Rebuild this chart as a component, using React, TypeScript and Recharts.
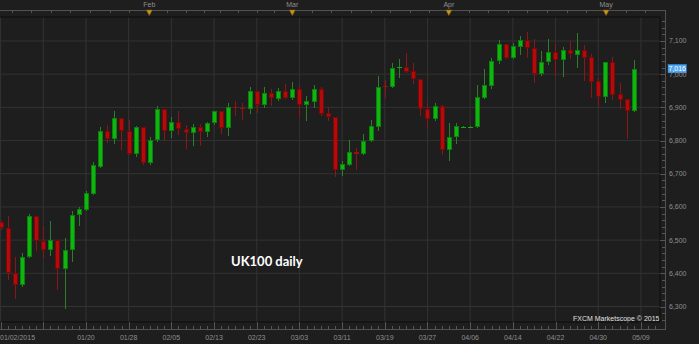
import React from 'react';
import { ComposedChart, Bar, XAxis, YAxis, CartesianGrid, ReferenceLine } from 'recharts';

// ---- data ----
const DATES = [
  '01/02','01/05','01/06','01/07','01/08','01/09','01/12','01/13','01/14','01/15','01/16','01/19','01/20','01/21','01/22','01/23','01/26','01/27','01/28','01/29','01/30',
  '02/02','02/03','02/04','02/05','02/06','02/09','02/10','02/11','02/12','02/13','02/16','02/17','02/18','02/19','02/20','02/23','02/24','02/25','02/26','02/27',
  '03/02','03/03','03/04','03/05','03/06','03/09','03/10','03/11','03/12','03/13','03/16','03/17','03/18','03/19','03/20','03/23','03/24','03/25','03/26','03/27','03/30','03/31',
  '04/01','04/02','04/03','04/06','04/07','04/08','04/09','04/10','04/13','04/14','04/15','04/16','04/17','04/20','04/21','04/22','04/23','04/24','04/27','04/28','04/29','04/30',
  '05/01','05/04','05/05','05/06','05/07',
];
const OPEN = [
  6554,6538,6400,6364,6449,6573,6496,6469,6500,6413,6469,6576,6592,6640,6721,6829,6806,6868,6829,6760,6841,
  6731,6803,6895,6830,6857,6835,6824,6841,6825,6854,6889,6839,6901,6898,6894,6949,6908,6944,6926,6948,
  6928,6956,6907,6916,6956,6883,6871,6712,6727,6765,6759,6799,6842,6965,6960,7019,7022,7010,6985,6896,6865,6905,
  6773,6810,6842,6842,6842,6929,6964,7040,7091,7050,7082,7104,7079,7000,7036,7066,7044,7073,7059,7073,7051,6979,
  6930,7036,6939,6925,6890,
];
const HIGH = [
  6557,6574,6448,6460,6580,6574,6544,6559,6501,6507,6588,6601,6647,6734,6842,6846,6889,6869,6862,6844,6842,
  6810,6904,6896,6872,6889,6848,6851,6851,6857,6890,6890,6913,6919,6912,6960,6950,6960,6955,6959,6969,
  6976,6965,6934,6967,6962,6897,6872,6737,6802,6779,6820,6861,6995,6983,7033,7045,7063,7035,6985,6912,6914,6906,
  6854,6853,6843,6843,6967,7015,7050,7102,7091,7094,7115,7128,7105,7070,7106,7090,7083,7101,7124,7088,7060,6987,
  7036,7053,6974,6925,7043,
];
const LOW = [
  6534,6383,6325,6362,6448,6470,6448,6456,6354,6294,6437,6547,6592,6640,6721,6797,6793,6776,6759,6752,6730,
  6730,6800,6802,6810,6820,6779,6788,6788,6815,6851,6824,6817,6877,6864,6884,6887,6901,6906,6922,6928,
  6925,6875,6862,6902,6877,6862,6692,6697,6727,6714,6759,6799,6832,6930,6960,6993,7007,6973,6877,6839,6862,6761,
  6740,6793,6841,6841,6842,6929,6959,7033,7048,7050,7062,7052,6977,6999,7030,6997,6995,7050,7022,6982,6930,6905,
  6915,6925,6899,6808,6890,
];
const CLOSE = [
  6537,6400,6365,6450,6573,6496,6469,6500,6414,6471,6577,6594,6641,6725,6829,6806,6868,6829,6760,6841,6731,
  6803,6895,6830,6857,6834,6824,6841,6825,6854,6889,6839,6901,6897,6894,6949,6908,6944,6927,6948,6928,
  6956,6907,6919,6956,6881,6871,6712,6730,6766,6759,6800,6844,6962,6961,7020,7023,7008,6984,6895,6866,6905,6772,
  6811,6844,6842,6842,6930,6966,7040,7091,7050,7084,7104,7078,7000,7037,7066,7044,7073,7060,7073,7050,6977,6930,
  7036,6938,6923,6890,7016,
];

// bottom axis: gridline / label positions (trading-day index) and labels
const X_MAJOR = [0, 6, 12, 18, 24, 30, 36, 42, 48, 54, 60, 66, 72, 78, 84, 90];
const X_LABELS = ['01/02/2015', '', '01/20', '01/28', '02/05', '02/13', '02/23', '03/03', '03/11', '03/19', '03/27', '04/06', '04/14', '04/22', '04/30', '05/09'];
const X_MINOR = Array.from({ length: 93 }, (_, k) => k);

// top axis: month markers and small ticks
const MONTH_POS = [20.9, 41, 63, 85.1];
const MONTH_LABELS = ['Feb', 'Mar', 'Apr', 'May'];
const TOP_MINOR = [1.56, 4.27, 7.04, 9.8, 12.56, 15.33, 18.09, 23.43, 26.0, 28.6, 30.9, 33.4, 36.0, 38.4, 43.7, 46.4, 49.2, 52.0, 54.7, 57.5, 60.25, 65.8, 68.5, 71.3, 74.0, 76.8, 79.6, 82.3, 87.9, 90.6];

// right axis
const Y_MAJOR = [6300, 6400, 6500, 6600, 6700, 6800, 6900, 7000, 7100];
const Y_ALL = Array.from({ length: 46 }, (_, k) => 6260 + k * 20);

const LAST_PRICE = 7016;
const TITLE = 'UK100 daily';
const CREDIT = 'FXCM Marketscope \u00A9 2015';

// ---- layout / style ----
const W = 699;
const H = 344;
const X_DOMAIN: [number, number] = [-0.084, 92.68];
const Y_DOMAIN: [number, number] = [6253.3, 7172.3];
const BG = '#1e1e1e';
const GRID = '#333333';
const AXIS_TXT = '#8e8e8e';
const FONT = '"Liberation Sans", Arial, sans-serif';

const UP_FILL = '#0fb60f';
const UP_EDGE = '#0b800b';
const UP_WICK = '#2c7d2c';
const DN_FILL = '#b30b0b';
const DN_EDGE = '#7c0707';
const DN_WICK = '#8a1616';

const data = DATES.map((d, i) => ({
  i,
  date: d,
  open: OPEN[i],
  high: HIGH[i],
  low: LOW[i],
  close: CLOSE[i],
  range: [LOW[i], HIGH[i]],
}));

const fmt = (v: number) => v.toLocaleString('en-US');

const Candle = (props: any) => {
  const { x, y, width, height, payload } = props;
  if (x == null || y == null || !payload) return null;
  const { open, close, high, low } = payload;
  const cx = Math.round(x + width / 2);
  const span = high - low;
  const py = (v: number) => (span === 0 ? y : y + ((high - v) / span) * height);
  const up = close >= open;
  const top = Math.round(py(Math.max(open, close)));
  const bot = Math.round(py(Math.min(open, close)));
  const h = Math.max(1, bot - top);
  const edge = up ? UP_EDGE : DN_EDGE;
  const fill = up ? UP_FILL : DN_FILL;
  return (
    <g>
      <line x1={cx + 0.5} x2={cx + 0.5} y1={Math.round(y)} y2={Math.round(y + height) + 1} stroke={up ? UP_WICK : DN_WICK} strokeWidth={1} />
      <rect x={cx - 2} y={top} width={5} height={h} fill={edge} />
      {h > 2 && <rect x={cx - 1} y={top + 1} width={3} height={h - 2} fill={fill} />}
      {h <= 2 && <rect x={cx - 2} y={top} width={5} height={h} fill={fill} opacity={0.8} />}
    </g>
  );
};

const BottomTick = (props: any) => {
  const { x, payload } = props;
  const i = payload.value as number;
  const k = X_MAJOR.indexOf(i);
  const xr = Math.round(x) + 0.5;
  const label = k >= 0 ? X_LABELS[k] : '';
  return (
    <g>
      <line x1={xr} x2={xr} y1={k >= 0 ? 322 : 326} y2={329.5} stroke="#555" strokeWidth={1} />
      {label && (
        <text x={k === 0 ? 0 : x} y={340} textAnchor={k === 0 ? 'start' : 'middle'} fontSize={7} fontFamily={FONT} fill={AXIS_TXT}>
          {label}
        </text>
      )}
    </g>
  );
};

const TopTick = (props: any) => {
  const { x, payload } = props;
  const v = payload.value as number;
  const m = MONTH_POS.indexOf(v);
  const xr = Math.round(x) + 0.5;
  if (m >= 0) {
    return (
      <g>
        <text x={x} y={7.2} textAnchor="middle" fontSize={7} fontFamily={FONT} fill={AXIS_TXT}>
          {MONTH_LABELS[m]}
        </text>
        <polygon points={`${x - 3},10 ${x + 3},10 ${x},15.5`} fill="#c9961e" stroke="#7a5a10" strokeWidth={0.6} />
      </g>
    );
  }
  return <line x1={xr} x2={xr} y1={10} y2={13} stroke="#555" strokeWidth={1} />;
};

const RightTick = (props: any) => {
  const { y, payload } = props;
  const v = payload.value as number;
  const major = v % 100 === 0;
  const yr = Math.round(y) + 0.5;
  return (
    <g>
      <line x1={major ? 660 : 662} x2={665.5} y1={yr} y2={yr} stroke="#555" strokeWidth={1} />
      {major && (
        <text x={669} y={y} dy={2.4} fontSize={7} fontFamily={FONT} fill={AXIS_TXT}>
          {fmt(v)}
        </text>
      )}
    </g>
  );
};

const PriceTag = (props: any) => {
  const vb = props.viewBox || {};
  if (vb.x == null) return null;
  const bx = vb.x + vb.width + 8;
  const cy = vb.y;
  return (
    <g>
      <rect x={bx} y={cy - 4.5} width={18.5} height={8.5} fill="#4ea6f2" stroke="#2f7fcc" strokeWidth={0.5} />
      <text x={bx + 9.25} y={cy} dy={2.4} textAnchor="middle" fontSize={7} fontFamily={FONT} fill="#ffffff">
        {fmt(LAST_PRICE)}
      </text>
    </g>
  );
};

export default function App() {
  return (
    <div style={{ position: 'absolute', left: 0, top: 0, width: W, height: H, background: BG }}>
      <ComposedChart width={W} height={H} data={data} margin={{ top: 0, right: 0, bottom: 0, left: 0 }} style={{ background: BG }}>
        <CartesianGrid stroke={GRID} strokeWidth={1} verticalValues={X_MAJOR} horizontalValues={Y_MAJOR} />
        <line x1={0} x2={666} y1={10.5} y2={10.5} stroke="#525252" strokeWidth={1} />
        <line x1={0} x2={666} y1={329.5} y2={329.5} stroke="#525252" strokeWidth={1} />
        <line x1={665.5} x2={665.5} y1={10} y2={330} stroke="#525252" strokeWidth={1} />
        <XAxis
          xAxisId="top"
          orientation="top"
          dataKey="i"
          type="number"
          domain={X_DOMAIN}
          allowDataOverflow
          ticks={[...TOP_MINOR, ...MONTH_POS]}
          interval={0}
          height={17}
          tickLine={false}
          axisLine={{ stroke: '#0c0c0c' }}
          tick={(p: any) => <TopTick {...p} />}
        />
        <XAxis
          dataKey="i"
          type="number"
          domain={X_DOMAIN}
          allowDataOverflow
          ticks={X_MINOR}
          interval={0}
          height={22}
          tickLine={false}
          axisLine={{ stroke: '#0c0c0c' }}
          tick={(p: any) => <BottomTick {...p} />}
        />
        <YAxis
          orientation="right"
          type="number"
          domain={Y_DOMAIN}
          allowDataOverflow
          ticks={Y_ALL}
          interval={0}
          width={39}
          tickLine={false}
          axisLine={{ stroke: '#0c0c0c' }}
          tick={(p: any) => <RightTick {...p} />}
        />
        <Bar dataKey="range" barSize={5} shape={(p: any) => <Candle {...p} />} isAnimationActive={false} />
        <ReferenceLine y={LAST_PRICE} stroke="none" ifOverflow="visible" label={(p: any) => <PriceTag {...p} />} />
        <text x={231} y={266} fontSize={13} fontWeight={700} fontFamily="Lato, 'Open Sans', sans-serif" fill="#ffffff">
          {TITLE}
        </text>
        <text x={573} y={321} fontSize={7} fontFamily={FONT} fill="#e0e0e0">
          {CREDIT}
        </text>
      </ComposedChart>
    </div>
  );
}
